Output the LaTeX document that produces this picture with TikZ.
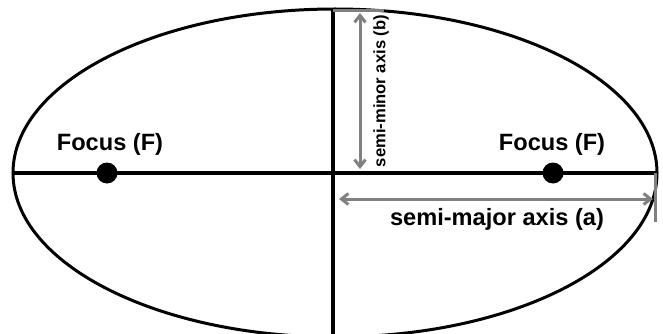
\documentclass[tikz,border=0pt]{standalone}
\usepackage{fontspec}
\setmainfont{Liberation Sans}
\usetikzlibrary{arrows.meta}
\begin{document}
\begin{tikzpicture}[x=1pt,y=-1pt,
 lbl/.style={font=\bfseries\fontsize{23.6}{28}\selectfont, inner sep=0pt},
 smalllbl/.style={font=\bfseries\fontsize{16.6}{20}\selectfont, inner sep=0pt},
 axisline/.style={line width=3.5pt},
 dimline/.style={draw=black!50, line width=3pt},
 dimarrow/.style={dimline, {Straight Barb[length=7pt,width=11pt]}-{Straight Barb[length=7pt,width=11pt]}},
 focusdot/.style={circle, fill=black, minimum size=21pt, inner sep=0pt}]
\useasboundingbox (0,0) rectangle (663,334);
\fill[white] (0,0) rectangle (663,334);
% ellipse and axes
\coordinate (C) at (335,173);
\coordinate (L) at (13,173);
\coordinate (R) at (657,173);
\coordinate (VT) at (333,9);
\coordinate (VB) at (333,336);
\draw[line width=3pt] (C) ellipse [x radius=322, y radius=164];
\draw[axisline] (L) -- (R);
\draw[line width=4.5pt] (VT) -- (VB);
% foci
\node[focusdot] (F1) at (107,173) {};
\node[focusdot] (F2) at (553,173) {};
\node[lbl, anchor=base] (F1l) at (110,150) {Focus (F)};
\node[lbl, anchor=base] (F2l) at (552,150) {Focus (F)};
% semi-minor axis
\coordinate (TopA) at (333,10.5);
\coordinate (TopB) at (384,10.5);
\draw[dimline, line width=3.5pt] (TopA) -- (TopB);
\coordinate (Bt) at (360,13);
\coordinate (Bb) at (360,169);
\draw[dimarrow] (Bb) -- (Bt);
\node[smalllbl, rotate=90] (Blbl) at (381,91) {semi-minor axis (b)};
% semi-major axis
\coordinate (RA) at (655,173);
\coordinate (RB) at (655,222);
\draw[dimline] (RA) -- (RB);
\coordinate (Al) at (339,199);
\coordinate (Ar) at (653,199);
\draw[dimarrow] (Al) -- (Ar);
\node[lbl, anchor=base] (Albl) at (497,225) {semi-major axis (a)};
\end{tikzpicture}
\end{document}
